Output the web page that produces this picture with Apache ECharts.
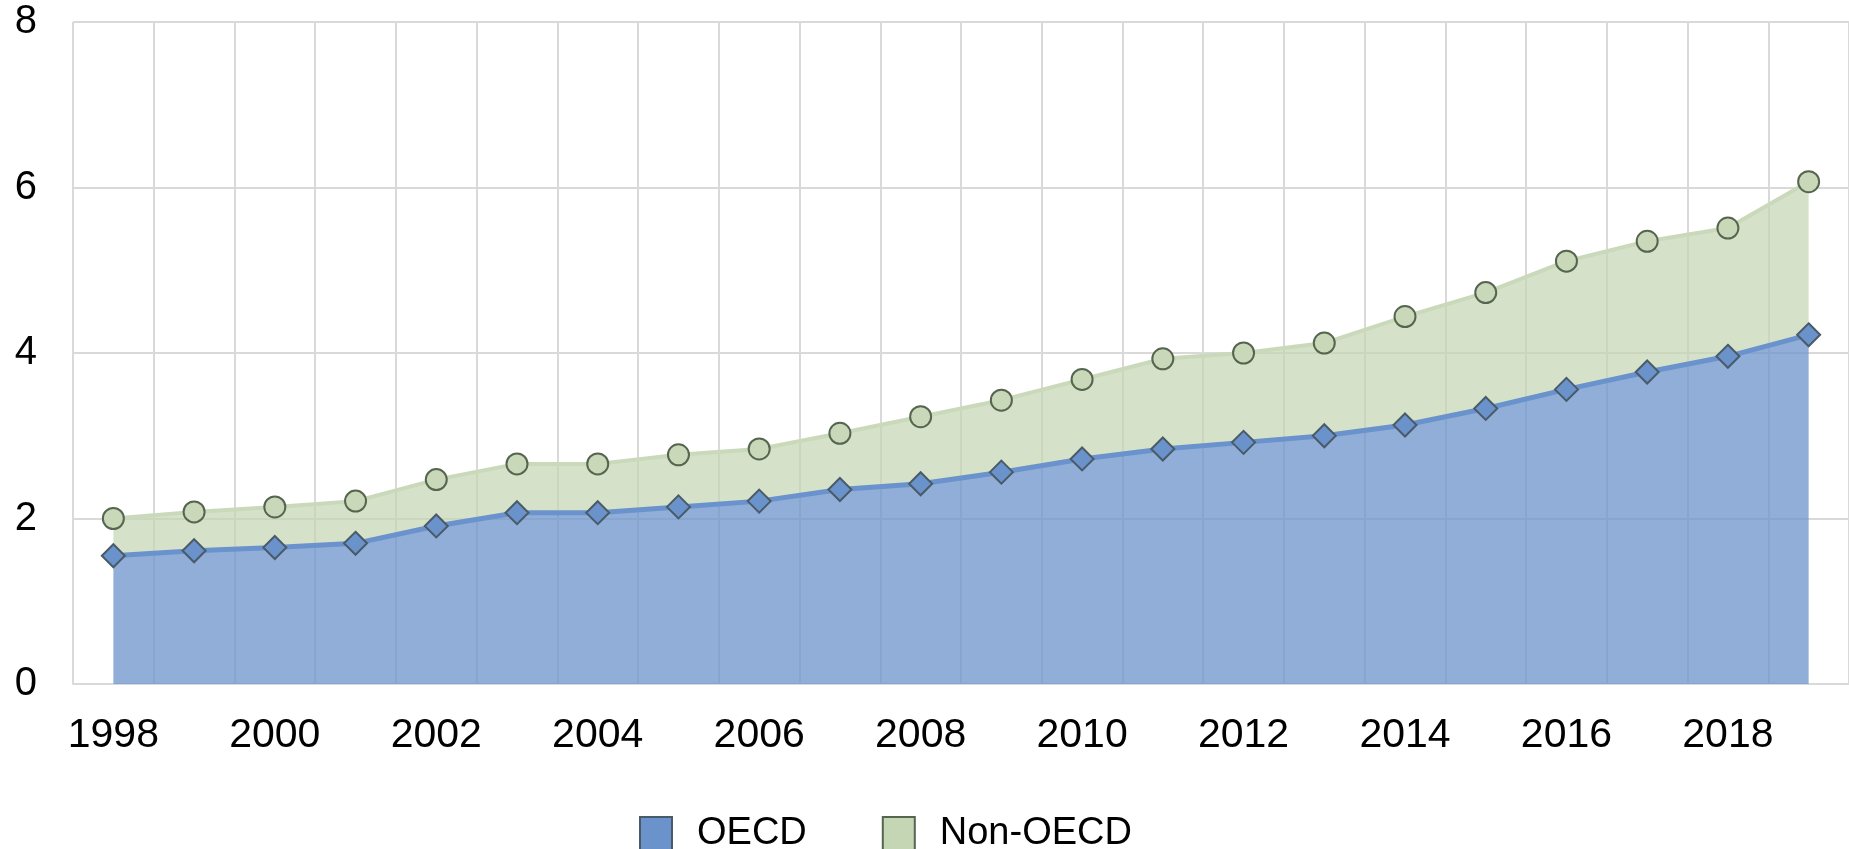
<!DOCTYPE html>
<html>
<head>
<meta charset="utf-8">
<script src="https://cdn.jsdelivr.net/npm/echarts@6/dist/echarts.min.js"></script>
<style>
html,body{margin:0;padding:0;background:#fff;}
#chart{width:1849px;height:849px;}
</style>
</head>
<body>
<div id="chart"></div>
<script>
const years = ['1998','1999','2000','2001','2002','2003','2004','2005','2006','2007','2008','2009','2010','2011','2012','2013','2014','2015','2016','2017','2018','2019'];
const oecd = [1.55,1.61,1.65,1.70,1.91,2.07,2.07,2.14,2.21,2.35,2.42,2.56,2.72,2.84,2.92,3.00,3.13,3.33,3.56,3.77,3.96,4.22];
// Non-OECD increment stacked on top of OECD
const nonOecd = [0.45,0.47,0.49,0.51,0.56,0.59,0.59,0.63,0.63,0.68,0.81,0.87,0.96,1.09,1.08,1.12,1.31,1.40,1.55,1.58,1.55,1.85];
const yTicks = [0,2,4,6,8];
const seriesNames = ['OECD','Non-OECD'];

const chart = echarts.init(document.getElementById('chart'), null, {renderer:'canvas'});
const font = 'Liberation Sans, Arial, sans-serif';
chart.setOption({
  animation:false,
  backgroundColor:'#ffffff',
  grid:{left:73, top:22, width:1784, height:662, containLabel:false},
  legend:{
    data:[
      {name:seriesNames[0], icon:'rect', itemStyle:{color:'#6b93cb'}},
      {name:seriesNames[1], icon:'rect', itemStyle:{color:'#c5d6b5'}}
    ],
    left:634, top:810, itemWidth:32, itemHeight:34, itemGap:75,
    textStyle:{fontFamily:font, fontSize:38, color:'#000', padding:[0,0,0,20]}
  },
  xAxis:{
    type:'category', data:years, boundaryGap:true,
    axisLine:{show:true, lineStyle:{color:'#d9d9d9', width:2}},
    axisTick:{show:false},
    axisLabel:{interval:1, fontFamily:font, fontSize:41, color:'#000', margin:31},
    splitLine:{show:true, interval:0, lineStyle:{color:'#d9d9d9', width:2}}
  },
  yAxis:{
    type:'value', min:yTicks[0], max:yTicks[yTicks.length-1], interval:2,
    axisLine:{show:false}, axisTick:{show:false},
    axisLabel:{fontFamily:font, fontSize:40, color:'#000', margin:36},
    splitLine:{show:true, lineStyle:{color:'#d9d9d9', width:2}}
  },
  series:[
    {
      name:seriesNames[0], type:'line', stack:'total', data:oecd,
      symbol:'diamond', symbolSize:[23,23],
      itemStyle:{color:'#6b93cb', borderColor:'#4a5a68', borderWidth:2},
      lineStyle:{color:'#6a92cc', width:5},
      areaStyle:{color:'#6b93cb', opacity:0.75},
      z:3
    },
    {
      name:seriesNames[1], type:'line', stack:'total', data:nonOecd,
      symbol:'circle', symbolSize:21,
      itemStyle:{color:'#c8d8b9', borderColor:'#56654f', borderWidth:2},
      lineStyle:{color:'#c9d9ba', width:4},
      areaStyle:{color:'#c3d5b2', opacity:0.7},
      z:2
    }
  ]
});
</script>
</body>
</html>
